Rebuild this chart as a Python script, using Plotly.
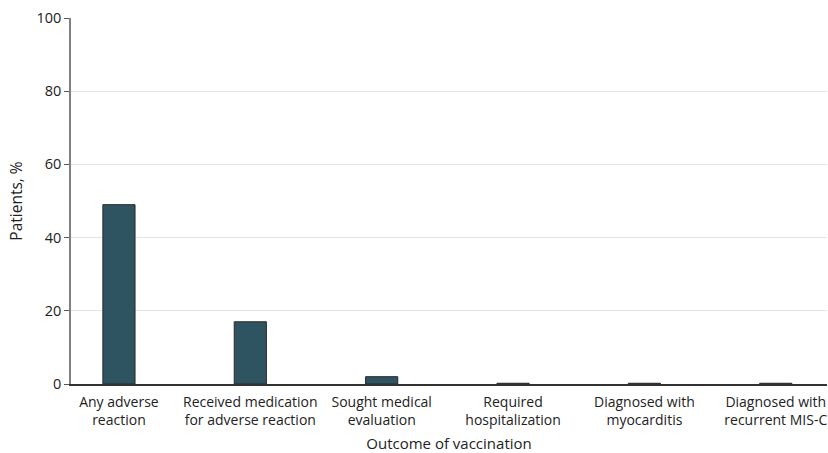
import plotly.graph_objects as go

categories = [
    "Any adverse<br>reaction",
    "Received medication<br>for adverse reaction",
    "Sought medical<br>evaluation",
    "Required<br>hospitalization",
    "Diagnosed with<br>myocarditis",
    "Diagnosed with<br>recurrent MIS-C",
]
values = [49, 17, 2, 0.2, 0.2, 0.2]
y_ticks = [0, 20, 40, 60, 80, 100]

FONT = "Open Sans"

fig = go.Figure(
    go.Bar(
        x=list(range(len(categories))),
        y=values,
        width=0.245,
        marker=dict(color="#2e5361", line=dict(color="#2a2a2a", width=1)),
        hoverinfo="skip",
    )
)

fig.update_layout(
    width=828,
    height=453,
    margin=dict(l=71, r=1, t=18, b=69),
    plot_bgcolor="white",
    paper_bgcolor="white",
    showlegend=False,
    font=dict(family=FONT, size=14, color="#222"),
    xaxis=dict(
        range=[-0.365, 5.39],
        tickmode="array",
        tickvals=list(range(len(categories))),
        ticktext=categories,
        showgrid=False,
        showline=True,
        linecolor="#333",
        linewidth=1.5,
        ticks="",
        automargin=False,
        ticklabelstandoff=4,
        tickfont=dict(family=FONT, size=14, color="#222"),
        title=dict(text="Outcome of vaccination", font=dict(family=FONT, size=15, color="#222"), standoff=16),
        zeroline=False,
    ),
    yaxis=dict(
        range=[0, 100],
        tickvals=y_ticks,
        showgrid=True,
        gridcolor="#e3e3e3",
        gridwidth=1,
        showline=True,
        linecolor="#808080",
        linewidth=1.5,
        ticks="outside",
        ticklen=5,
        tickcolor="#555",
        automargin=False,
        tickfont=dict(family=FONT, size=14.5, color="#222"),
        title=dict(text="Patients, %", font=dict(family=FONT, size=15.5, color="#222"), standoff=10),
        zeroline=False,
    ),
)

fig.write_html(
    "out.html",
    config={"displayModeBar": False},
    post_script="document.body.style.margin='0';document.body.style.overflow='hidden';",
)
